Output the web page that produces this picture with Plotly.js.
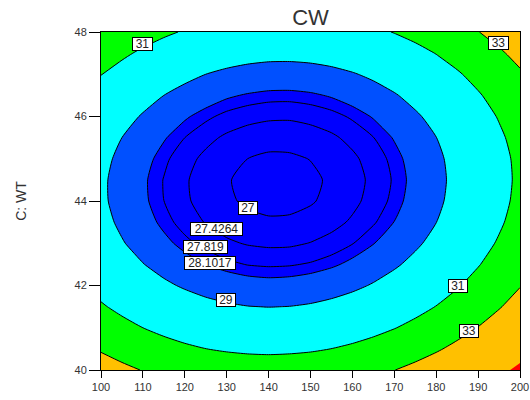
<!DOCTYPE html>
<html><head><meta charset="utf-8">
<script src="https://cdn.plot.ly/plotly-3.0.1.min.js"></script>
<style>html,body{margin:0;padding:0;background:#fff}#chart{width:530px;height:400px}</style>
</head><body><div id="chart"></div>
<script>
// x factor (100..200) and C: WT (40..48)
const xVals = [100,105,110,115,120,125,130,135,140,145,150,155,160,165,170,175,180,185,190,195,200];
const yVals = [40,40.5,41,41.5,42,42.5,43,43.5,44,44.5,45,45.5,46,46.5,47,47.5,48];
// CW response, one row per y value
const zRows = [
 [33.86,33.37,32.94,32.58,32.29,32.06,31.90,31.80,31.77,31.81,31.91,32.08,32.31,32.61,32.98,33.41,33.90,34.47,35.10,35.79,36.56],
 [32.83,32.34,31.91,31.54,31.24,31.01,30.85,30.75,30.71,30.75,30.84,31.01,31.24,31.54,31.90,32.33,32.82,33.38,34.01,34.70,35.46],
 [31.93,31.43,31.00,30.63,30.33,30.09,29.92,29.82,29.78,29.81,29.91,30.07,30.30,30.59,30.95,31.37,31.86,32.42,33.04,33.73,34.49],
 [31.15,30.65,30.21,29.84,29.54,29.30,29.13,29.02,28.98,29.01,29.10,29.26,29.48,29.77,30.13,30.55,31.03,31.59,32.21,32.89,33.65],
 [30.50,30.00,29.56,29.18,28.88,28.63,28.46,28.35,28.30,28.33,28.42,28.57,28.79,29.08,29.43,29.85,30.33,30.88,31.50,32.18,32.93],
 [29.98,29.47,29.03,28.65,28.34,28.10,27.92,27.80,27.76,27.78,27.86,28.01,28.23,28.51,28.86,29.28,29.76,30.31,30.92,31.60,32.34],
 [29.59,29.07,28.63,28.25,27.93,27.69,27.50,27.39,27.34,27.35,27.44,27.58,27.80,28.08,28.42,28.83,29.31,29.86,30.47,31.14,31.88],
 [29.32,28.81,28.36,27.97,27.65,27.40,27.22,27.10,27.05,27.06,27.14,27.28,27.49,27.77,28.11,28.52,28.99,29.53,30.14,30.81,31.55],
 [29.18,28.66,28.21,27.82,27.50,27.25,27.06,26.94,26.88,26.89,26.96,27.11,27.31,27.59,27.93,28.33,28.80,29.34,29.94,30.61,31.35],
 [29.17,28.65,28.19,27.80,27.48,27.22,27.03,26.90,26.84,26.85,26.92,27.06,27.26,27.53,27.87,28.27,28.74,29.27,29.87,30.54,31.27],
 [29.29,28.76,28.30,27.91,27.58,27.32,27.13,27.00,26.93,26.94,27.01,27.14,27.34,27.61,27.94,28.34,28.80,29.33,29.93,30.59,31.32],
 [29.53,29.00,28.54,28.15,27.82,27.55,27.35,27.22,27.15,27.15,27.22,27.35,27.55,27.81,28.14,28.53,28.99,29.52,30.12,30.78,31.50],
 [29.91,29.37,28.91,28.51,28.17,27.91,27.70,27.57,27.50,27.49,27.56,27.68,27.88,28.14,28.46,28.86,29.31,29.84,30.43,31.09,31.81],
 [30.41,29.87,29.40,29.00,28.66,28.39,28.18,28.05,27.97,27.96,28.02,28.15,28.34,28.60,28.92,29.31,29.76,30.28,30.87,31.52,32.24],
 [31.03,30.50,30.02,29.62,29.28,29.00,28.79,28.65,28.57,28.56,28.62,28.74,28.93,29.18,29.50,29.89,30.34,30.85,31.44,32.09,32.80],
 [31.79,31.25,30.77,30.36,30.02,29.74,29.53,29.38,29.30,29.29,29.34,29.46,29.64,29.89,30.21,30.59,31.04,31.55,32.13,32.78,33.49],
 [32.67,32.13,31.65,31.23,30.89,30.61,30.39,30.24,30.16,30.14,30.19,30.31,30.49,30.73,31.05,31.42,31.87,32.38,32.96,33.60,34.31]
];
// contour levels drawn with lines (and labelled)
const levels = [27, 27.4264, 27.819, 28.1017, 29, 31, 33];
// top colour band boundary (no line)
const topBand = 36.2;

// styles
const baseFill = '#0000FF';
const bandFills = ['#0000FF','#0000FF','#0000FF','#0050FF','#00FFFF','#00FF00','#FFC000'];
const topFill = '#FF0000';

const traces = [];
levels.forEach((lv, i) => {
  traces.push({
    type: 'contour', x: xVals, y: yVals, z: zRows,
    contours: {type: 'constraint', operation: '<', value: lv},
    fillcolor: bandFills[i],
    line: {color: '#000', width: 1, smoothing: 0.6},
    showscale: false, hoverinfo: 'skip', showlegend: false
  });
});
traces.push({
  type: 'contour', x: xVals, y: yVals, z: zRows,
  contours: {type: 'constraint', operation: '<', value: topBand},
  fillcolor: topFill,
  line: {color: topFill, width: 0, smoothing: 0.6},
  showscale: false, hoverinfo: 'skip', showlegend: false
});

// label placements: [level index, x, y, box width]
const labelSpots = [
  [5, 109.8, 47.71, 19], [6, 194.8, 47.73, 19],
  [0, 135.0, 43.84, 18], [1, 127.6, 43.33, 51],
  [2, 124.9, 42.91, 43], [3, 126.0, 42.53, 50],
  [4, 129.8, 41.66, 18], [5, 185.1, 41.98, 18],
  [6, 187.8, 40.93, 18]
];
const annotations = labelSpots.map(s => ({
  x: s[1], y: s[2], xref: 'x', yref: 'y', text: String(levels[s[0]]),
  showarrow: false, bgcolor: '#fff', bordercolor: '#000', borderwidth: 1, borderpad: 0,
  width: s[3], height: 12,
  font: {family: 'Liberation Sans, Arial, sans-serif', size: 12, color: '#222'}
}));

const fontFam = 'Liberation Sans, Arial, sans-serif';
const layout = {
  width: 530, height: 400,
  margin: {l: 101, r: 10, t: 32, b: 30},
  paper_bgcolor: '#fff', plot_bgcolor: baseFill,
  title: {text: 'CW', font: {family: fontFam, size: 22, color: '#333'},
          xref: 'paper', x: 0.5, xanchor: 'center', yref: 'container', y: 0.957, yanchor: 'middle'},
  xaxis: {range: [100, 200], tick0: 100, dtick: 10, ticks: 'outside', ticklen: 7, tickcolor: '#000',
          showline: true, linecolor: '#000', linewidth: 1, mirror: true, showgrid: false, zeroline: false,
          tickfont: {family: fontFam, size: 11, color: '#333'}},
  yaxis: {range: [40, 48], tick0: 40, dtick: 2, ticks: 'outside', ticklen: 11, tickcolor: '#000',
          showline: true, linecolor: '#000', linewidth: 1, mirror: true, showgrid: false, zeroline: false,
          tickfont: {family: fontFam, size: 11, color: '#333'},
          title: {text: 'C: WT', font: {family: fontFam, size: 14, color: '#333'}, standoff: 44}},
  annotations: annotations,
  showlegend: false
};
Plotly.newPlot('chart', traces, layout, {displayModeBar: false, staticPlot: true});
</script>
</body></html>
